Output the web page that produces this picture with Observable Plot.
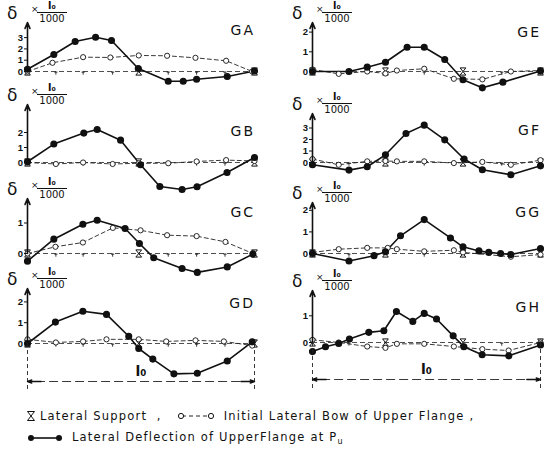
<!DOCTYPE html>
<html><head><meta charset="utf-8">
<script src="https://cdn.jsdelivr.net/npm/d3@7"></script>
<script src="https://cdn.jsdelivr.net/npm/@observablehq/plot@0.6"></script>
<style>
body{margin:0;background:#fff;}
#wrap{position:relative;width:547px;height:451px;overflow:hidden;background:#fff;font-family:"DejaVu Sans",sans-serif;color:#111;}
.cell{position:absolute;}
.ov{position:absolute;white-space:nowrap;line-height:1;}
.frac{position:absolute;text-align:center;line-height:1;}
.frac .num{font-size:10px;font-weight:bold;display:block;padding-bottom:1px;}
.frac .den{font-size:10px;display:block;border-top:1.3px solid #111;padding-top:1px;}
.legend{position:absolute;left:26px;font-size:11.5px;letter-spacing:1.2px;white-space:nowrap;display:flex;align-items:center;}
.legend svg{display:inline-block;}
</style></head><body><div id="wrap"></div>
<script>
// ---------- data (x = fraction of span l0, y = δ × l0/1000) ----------
const GA_deflectionX = [0, 0.116, 0.21, 0.30, 0.37, 0.488, 0.62, 0.686, 0.745, 0.88, 1.0];
const GA_deflection  = [0.2, 1.5, 2.65, 3.03, 2.74, 0.27, -0.86, -0.86, -0.68, -0.44, 0.05];
const GA_bowX = [0, 0.11, 0.245, 0.365, 0.49, 0.615, 0.74, 0.875, 0.99];
const GA_bow  = [0, 0.77, 1.27, 1.24, 1.42, 1.39, 1.21, 0.95, 0];

const GB_deflectionX = [0, 0.116, 0.248, 0.307, 0.41, 0.498, 0.583, 0.681, 0.747, 0.879, 1.0];
const GB_deflection  = [0.05, 1.23, 1.96, 2.2, 1.49, -0.15, -1.6, -1.8, -1.62, -0.67, 0.33];
const GB_bowX = [0, 0.125, 0.245, 0.375, 0.49, 0.62, 0.745, 0.875, 1.0];
const GB_bow  = [0, -0.1, 0.0, -0.1, -0.05, -0.05, 0.07, 0.16, 0.1];

const GC_deflectionX = [0, 0.116, 0.244, 0.307, 0.43, 0.493, 0.556, 0.681, 0.748, 0.88, 0.993];
const GC_deflection  = [-0.25, 0.47, 0.96, 1.09, 0.82, 0.33, -0.14, -0.49, -0.62, -0.44, -0.02];
const GC_bowX = [0, 0.123, 0.244, 0.376, 0.498, 0.615, 0.745, 0.872, 0.993];
const GC_bow  = [0, 0.22, 0.36, 0.84, 0.76, 0.6, 0.57, 0.38, 0];

const GD_deflectionX = [0, 0.123, 0.244, 0.348, 0.446, 0.49, 0.552, 0.645, 0.748, 0.88, 0.99];
const GD_deflection  = [0, 1.03, 1.55, 1.4, 0.35, -0.24, -0.75, -1.46, -1.43, -0.84, 0.08];
const GD_bowX = [0, 0.125, 0.245, 0.348, 0.49, 0.611, 0.74, 0.865, 0.99];
const GD_bow  = [0.2, 0.05, 0.1, 0.2, 0.2, 0.1, 0.15, 0.1, -0.1];

const GE_deflectionX = [0, 0.16, 0.24, 0.32, 0.415, 0.49, 0.58, 0.66, 0.745, 0.835, 1.0];
const GE_deflection  = [0, 0, 0.22, 0.47, 1.23, 1.23, 0.61, -0.42, -0.83, -0.54, 0.02];
const GE_bowX = [0, 0.115, 0.24, 0.32, 0.37, 0.49, 0.62, 0.745, 0.87, 1.0];
const GE_bow  = [0.1, -0.12, 0, -0.1, 0.05, 0.14, -0.37, -0.4, 0, 0.05];

const GF_deflectionX = [0, 0.16, 0.24, 0.32, 0.41, 0.49, 0.58, 0.665, 0.745, 0.87, 1.0];
const GF_deflection  = [-0.2, -0.66, -0.37, 0.67, 2.52, 3.25, 1.97, 0.3, -0.63, -1.07, -0.29];
const GF_bowX = [0, 0.115, 0.24, 0.32, 0.37, 0.49, 0.62, 0.745, 0.87, 1.0];
const GF_bow  = [0.3, -0.2, 0.1, 0.13, 0.1, 0.1, -0.05, 0.05, -0.2, 0.2];

const GG_deflectionX = [0, 0.16, 0.27, 0.32, 0.386, 0.49, 0.605, 0.66, 0.73, 0.773, 0.825, 0.87, 1.0];
const GG_deflection  = [0, -0.35, -0.1, 0.08, 0.82, 1.57, 0.72, 0.31, 0.12, 0.05, 0.0, -0.05, 0.23];
const GG_bowX = [0, 0.115, 0.24, 0.33, 0.37, 0.49, 0.62, 0.66, 0.87, 1.0];
const GG_bow  = [0.05, 0.2, 0.26, 0.26, 0.2, 0.1, 0.15, 0.05, -0.15, -0.05];

const GH_deflectionX = [0, 0.057, 0.115, 0.162, 0.247, 0.313, 0.368, 0.44, 0.49, 0.544, 0.617, 0.664, 0.744, 0.861, 1.0];
const GH_deflection  = [-0.34, -0.16, -0.04, 0.13, 0.38, 0.44, 1.16, 0.79, 1.09, 0.88, 0.25, -0.16, -0.46, -0.5, -0.09];
const GH_bowX = [0, 0.115, 0.24, 0.32, 0.37, 0.49, 0.62, 0.745, 0.86, 1.0];
const GH_bow  = [0.1, 0, -0.15, -0.2, -0.05, -0.05, -0.15, -0.25, -0.3, 0];

const leftSupports = [0, 0.49, 1];
const rightSupports = [0, 0.32, 0.66, 1];
const leftStations = [0.125, 0.245, 0.375, 0.62, 0.745, 0.87];
const rightStations = [0.16, 0.49, 0.83];

const panelNames = ["GA","GB","GC","GD","GE","GF","GG","GH"];
const yTicks = {GA:[0,1,2,3], GB:[0,1,2], GC:[0,1], GD:[0,1,2], GE:[0,1,2], GF:[0,1,2,3], GG:[0,1,2], GH:[0,1]};
const series = {
  GA:[GA_deflectionX,GA_deflection,GA_bowX,GA_bow], GB:[GB_deflectionX,GB_deflection,GB_bowX,GB_bow],
  GC:[GC_deflectionX,GC_deflection,GC_bowX,GC_bow], GD:[GD_deflectionX,GD_deflection,GD_bowX,GD_bow],
  GE:[GE_deflectionX,GE_deflection,GE_bowX,GE_bow], GF:[GF_deflectionX,GF_deflection,GF_bowX,GF_bow],
  GG:[GG_deflectionX,GG_deflection,GG_bowX,GG_bow], GH:[GH_deflectionX,GH_deflection,GH_bowX,GH_bow]
};

// ---------- layout ----------
const rowTop = [0, 91, 182, 272];
const rowH = [91, 91, 90, 125];
const colLeft = [0, 273], colW = [273, 274], colML = [27, 39], colMR = [19, 7];
const layout = {
  GA:{col:0,row:0,zero:71,ppu:11.3,top:22,lab:30},
  GB:{col:0,row:1,zero:71,ppu:15,top:13,lab:40},
  GC:{col:0,row:2,zero:71,ppu:30.5,top:16,lab:30},
  GD:{col:0,row:3,zero:71,ppu:20.8,top:16,lab:31,dim:109,dimBot:118},
  GE:{col:1,row:0,zero:71,ppu:19.7,top:22,lab:32},
  GF:{col:1,row:1,zero:71,ppu:11.5,top:22,lab:39},
  GG:{col:1,row:2,zero:71,ppu:21.6,top:20,lab:30},
  GH:{col:1,row:3,zero:70,ppu:26.7,top:18,lab:35,dim:107,dimBot:116}
};

const hourglass = {draw(ctx, size){ const r = Math.sqrt(size/Math.PI);
  ctx.moveTo(-r*0.8,-r); ctx.lineTo(r*0.8,-r); ctx.lineTo(-r*0.8,r); ctx.lineTo(r*0.8,r); ctx.closePath(); }};
const tickSym = {draw(ctx, size){ const r = Math.sqrt(size/Math.PI);
  ctx.moveTo(0,0); ctx.lineTo(0,r); ctx.moveTo(-r*0.5,r*0.2); ctx.lineTo(r*0.5,r*0.2);}};

const wrap = document.getElementById("wrap");

for (const name of panelNames) {
  const L = layout[name];
  const [dx, dy, bx, by] = series[name];
  const defl = dx.map((x,i)=>({x, y: dy[i]}));
  const bow = bx.map((x,i)=>({x, y: by[i]}));
  const H = rowH[L.row];
  const toV = px => (L.zero - px)/L.ppu;
  const yLo = toV(H + 40), yHi = toV(-40);
  const supports = L.col === 0 ? leftSupports : rightSupports;
  const stations = L.col === 0 ? leftStations : rightStations;
  const marks = [
    Plot.ruleY([0], {x1: 0, x2: 1, stroke: "#222", strokeWidth: 0.8, strokeDasharray: "5,3"}),
    Plot.dot(stations, {x: d=>d, y: 0, symbol: tickSym, r: 3.2, stroke: "#222", strokeWidth: 0.9, fill: "none"}),
    Plot.line(bow, {x: "x", y: "y", stroke: "#222", strokeWidth: 0.9, strokeDasharray: "4,3"}),
    Plot.line(defl, {x: "x", y: "y", stroke: "#111", strokeWidth: 1.6}),
    Plot.dot(supports, {x: d=>d, y: 0, symbol: hourglass, r: 3.6, stroke: "#111", strokeWidth: 1, fill: "white"}),
    Plot.dot(bow, {x: "x", y: "y", r: 2.6, fill: "white", stroke: "#111", strokeWidth: 0.9}),
    Plot.dot(defl, {x: "x", y: "y", r: 2.8, fill: "#111", stroke: "#111"}),
    Plot.arrow([0], {x1: 0, x2: 0, y1: 0, y2: toV(L.top), stroke: "#111", strokeWidth: 1.6, headLength: 6, headAngle: 45}),
    Plot.axisY({ticks: yTicks[name], tickFormat: d3.format("d"), tickSize: 3, tickPadding: 1.5, fontSize: 9.5, fontWeight: "bold", fontFamily: "Liberation Sans, sans-serif", label: null, anchor: "left"})
  ];
  if (L.dim !== undefined) {
    const dimY = toV(L.dim);
    marks.push(
      Plot.ruleX([0, 1], {x: d=>d, y1: 0, y2: toV(L.dimBot), stroke: "#222", strokeWidth: 0.9, strokeDasharray: "4,3"}),
      Plot.ruleY([dimY], {x1: 0.04, x2: 0.96, stroke: "#222", strokeWidth: 0.9, strokeDasharray: "9,4"}),
      Plot.arrow([0, 1], {x1: d => d === 0 ? 0.06 : 0.94, x2: d=>d, y1: dimY, y2: dimY, stroke: "#111", strokeWidth: 1.4, headLength: 5, headAngle: 40}),
      Plot.text(["l₀"], {x: 0.5, y: dimY, dy: -10, fontSize: 14, fontWeight: "bold", fontFamily: "DejaVu Sans, sans-serif", fill: "#111"})
    );
  }
  const chart = Plot.plot({
    width: colW[L.col], height: H,
    marginLeft: colML[L.col], marginRight: colMR[L.col], marginTop: 0, marginBottom: 0,
    x: {domain: [0, 1], axis: null},
    y: {domain: [yLo, yHi], range: [H + 40, -40], axis: null},
    style: {overflow: "visible", background: "transparent"},
    marks
  });
  const cell = document.createElement("div");
  cell.className = "cell";
  cell.style.left = colLeft[L.col] + "px";
  cell.style.top = rowTop[L.row] + "px";
  cell.appendChild(chart);
  wrap.appendChild(cell);

  const axisX = colLeft[L.col] + colML[L.col];
  const axisTop = rowTop[L.row] + L.top;
  const d = document.createElement("div");
  d.className = "ov"; d.textContent = "δ";
  d.style.cssText += `left:${axisX-20}px;top:${axisTop-17}px;font-size:17px;`;
  wrap.appendChild(d);
  const t = document.createElement("div");
  t.className = "ov"; t.textContent = "×";
  t.style.cssText += `left:${axisX+4}px;top:${axisTop-17}px;font-size:9px;`;
  wrap.appendChild(t);
  const f = document.createElement("div");
  f.className = "frac";
  f.style.cssText += `left:${axisX+10}px;top:${axisTop-21}px;width:30px;`;
  f.innerHTML = '<span class="num">l₀</span><span class="den">1000</span>';
  wrap.appendChild(f);
  const lab = document.createElement("div");
  lab.className = "ov"; lab.textContent = name;
  const right = colLeft[L.col] + colW[L.col] - colMR[L.col] + 1;
  lab.style.cssText += `left:${right-40}px;width:40px;text-align:right;top:${rowTop[L.row]+L.lab-7}px;font-size:14px;letter-spacing:2px;`;
  wrap.appendChild(lab);
}

// legend
const lg1 = document.createElement("div");
lg1.className = "legend"; lg1.style.top = "409px";
lg1.innerHTML = '<svg width="10" height="12"><path d="M1.5,1.5H8.5L1.5,10.5H8.5Z" fill="white" stroke="#111" stroke-width="1"/></svg>' +
  '<span style="margin-left:4px">Lateral Support &nbsp;,</span>' +
  '<svg width="40" height="10" style="margin-left:14px"><line x1="6" y1="5" x2="34" y2="5" stroke="#222" stroke-dasharray="4,3"/><circle cx="5" cy="5" r="2.6" fill="white" stroke="#111"/><circle cx="35" cy="5" r="2.6" fill="white" stroke="#111"/></svg>' +
  '<span style="margin-left:8px">Initial Lateral Bow of Upper Flange ,</span>';
wrap.appendChild(lg1);
const lg2 = document.createElement("div");
lg2.className = "legend"; lg2.style.top = "430px";
lg2.innerHTML = '<svg width="38" height="10"><line x1="5" y1="5" x2="33" y2="5" stroke="#111" stroke-width="1.6"/><circle cx="5" cy="5" r="3" fill="#111"/><circle cx="33" cy="5" r="3" fill="#111"/></svg>' +
  '<span style="margin-left:8px">Lateral Deflection of UpperFlange at P<sub style="font-size:8px">u</sub></span>';
wrap.appendChild(lg2);
</script></body></html>
